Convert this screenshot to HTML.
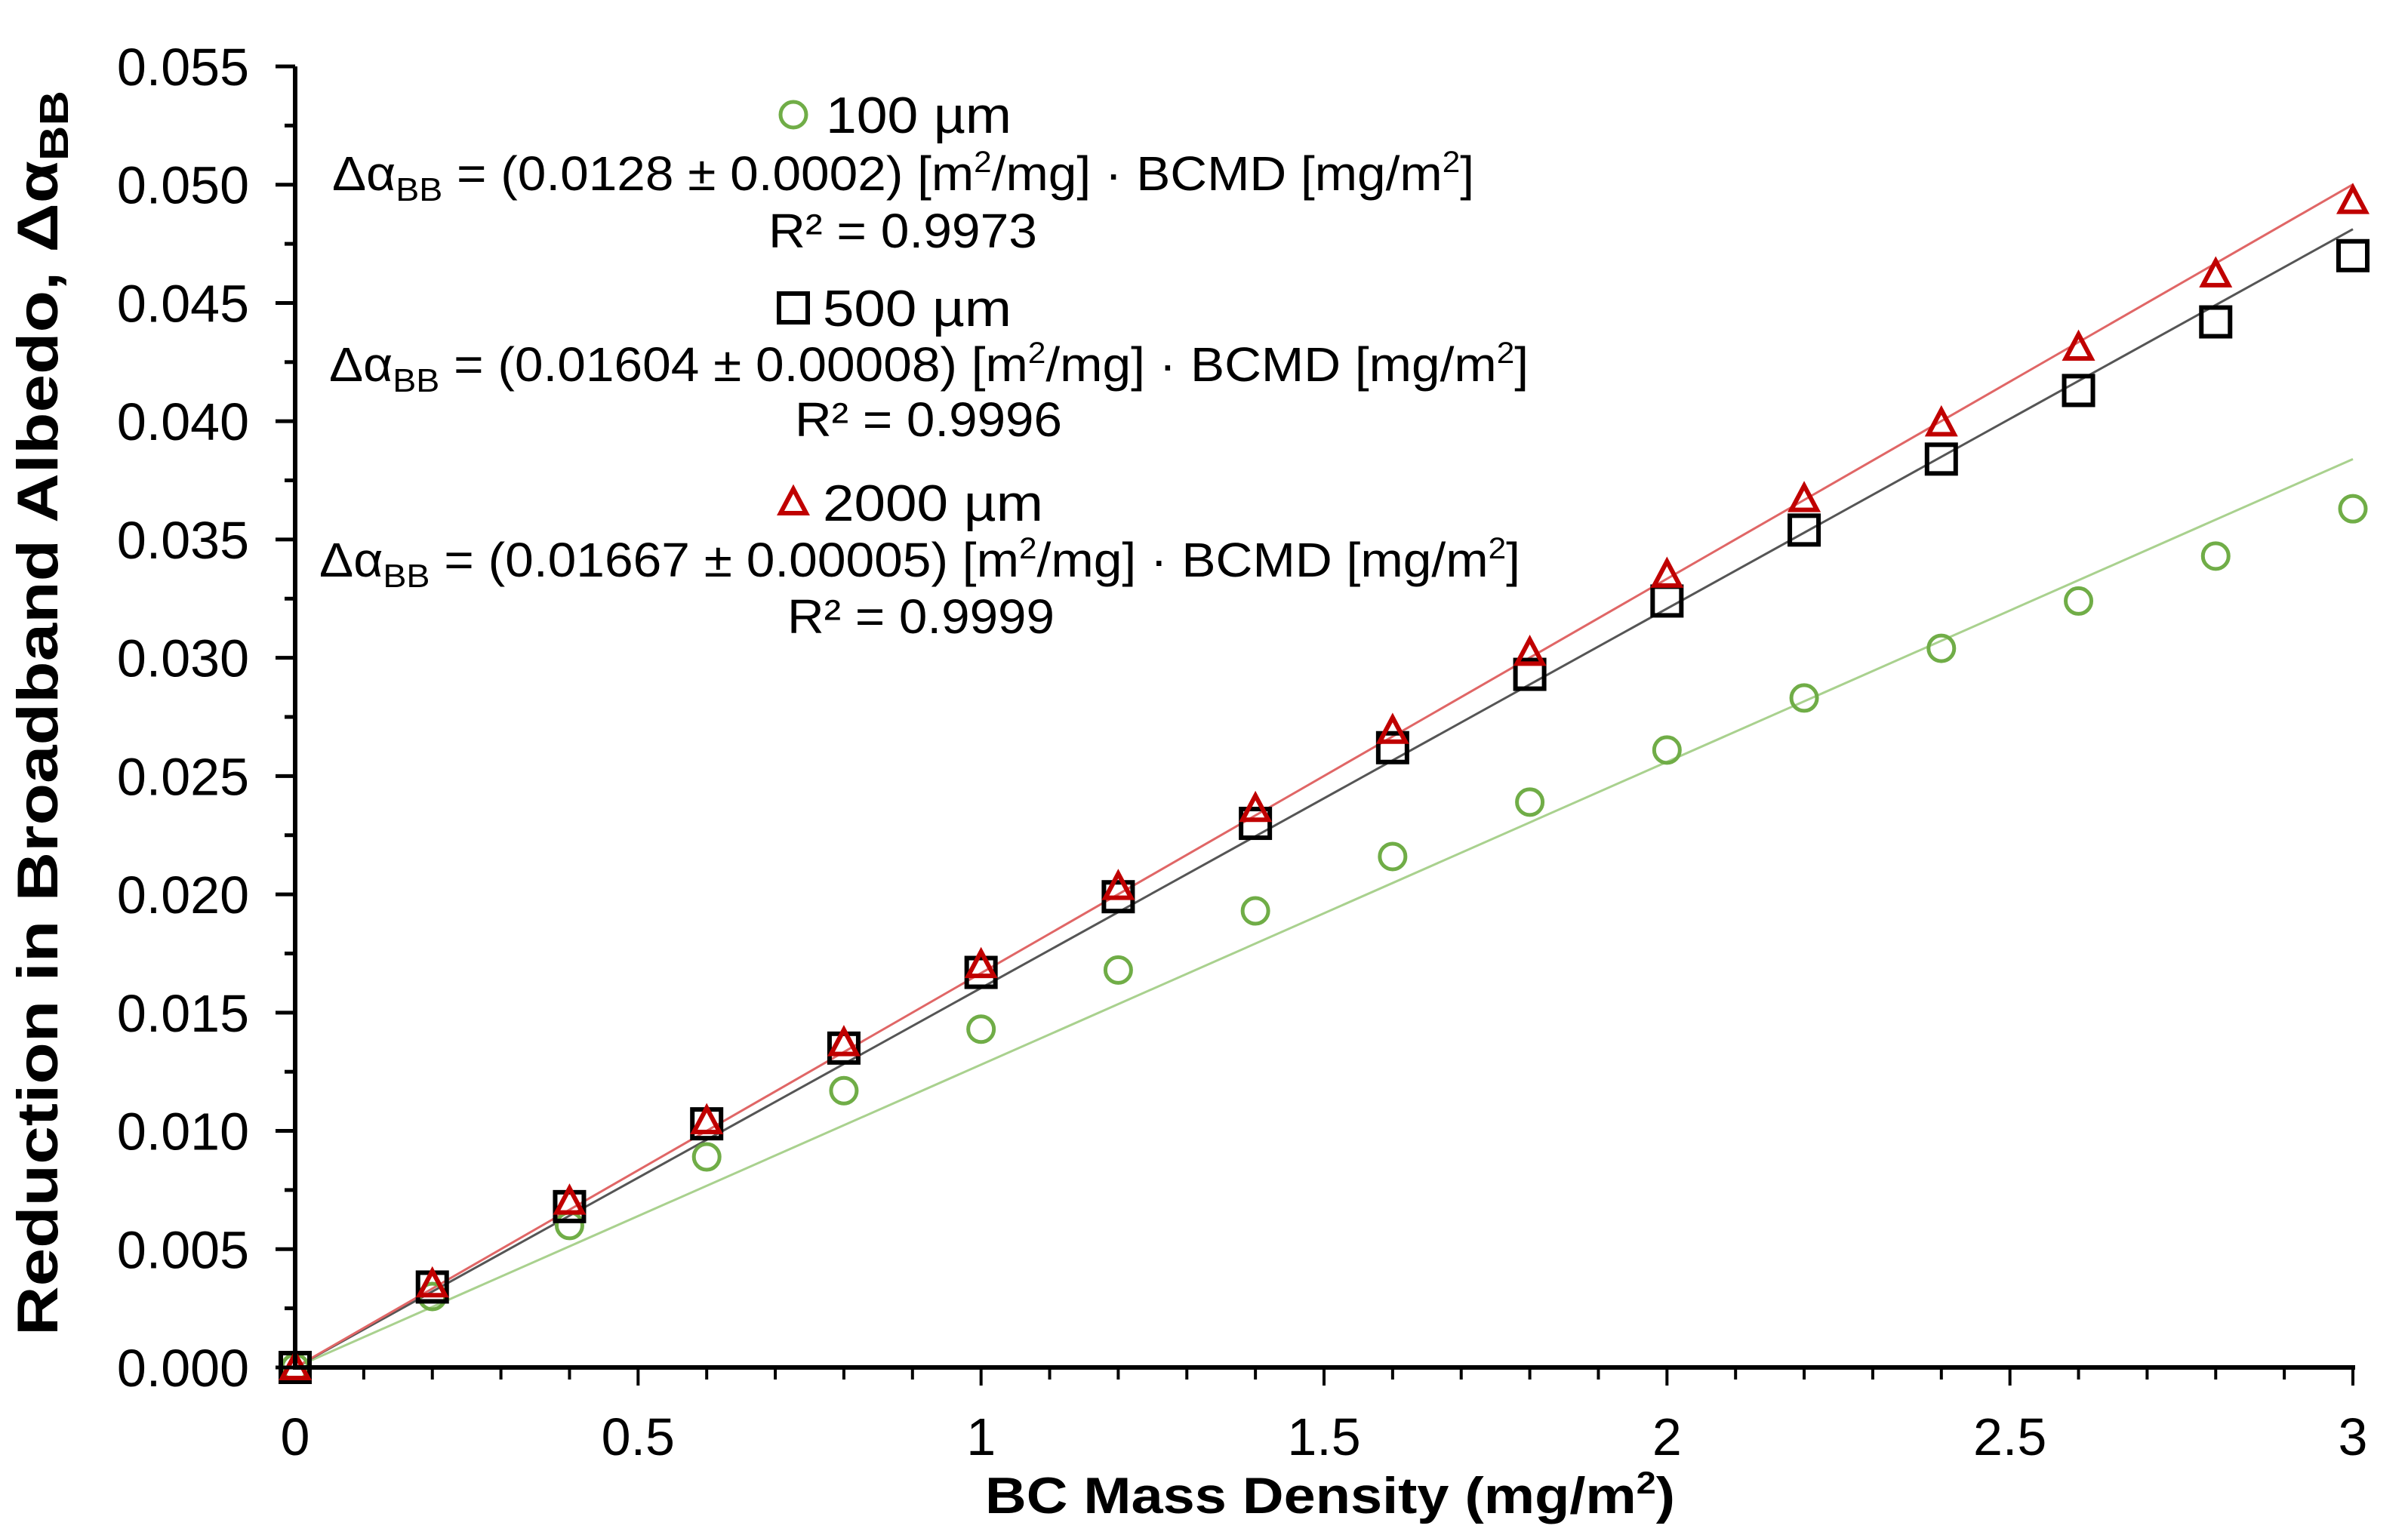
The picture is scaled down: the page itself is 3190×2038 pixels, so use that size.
<!DOCTYPE html>
<html><head><meta charset="utf-8"><style>
html,body{margin:0;padding:0;background:#fff;}
svg{display:block;font-family:"Liberation Sans",Arial,sans-serif;}
</style></head><body>
<svg id="chart" width="3190" height="2038" viewBox="0 0 3190 2038" xmlns="http://www.w3.org/2000/svg">
<g id="grid"></g>
<g id="lines"></g>
<g id="marks"></g>
<g id="axes"></g>
<text transform="translate(76,945) rotate(-90)" text-anchor="middle" font-weight="bold" font-size="76" textLength="1650" lengthAdjust="spacingAndGlyphs">Reduction in Broadband Albedo, Δα<tspan font-size="54" dy="14">BB</tspan></text>
<text x="1305" y="2005" font-weight="bold" font-size="68" textLength="914" lengthAdjust="spacingAndGlyphs">BC Mass Density (mg/m<tspan font-size="42" dy="-26">2</tspan><tspan dy="26">)</tspan></text>
<g font-size="64">
  <circle cx="1051" cy="152" r="17" fill="none" stroke="#70ad47" stroke-width="5"/>
  <text x="1094" y="176" font-size="68" textLength="246" lengthAdjust="spacingAndGlyphs">100 µm</text>
  <text x="440" y="252" textLength="1513" lengthAdjust="spacingAndGlyphs">Δα<tspan font-size="44" dy="14">BB</tspan><tspan dy="-14"> = (0.0128 ± 0.0002) [m</tspan><tspan font-size="40" dy="-24">2</tspan><tspan dy="24">/mg] · BCMD [mg/m</tspan><tspan font-size="40" dy="-24">2</tspan><tspan dy="24">]</tspan></text>
  <text x="1018" y="328" textLength="356" lengthAdjust="spacingAndGlyphs">R² = 0.9973</text>

  <rect x="1032" y="389" width="38" height="38" fill="none" stroke="#000" stroke-width="6"/>
  <text x="1090" y="432" font-size="68" textLength="250" lengthAdjust="spacingAndGlyphs">500 µm</text>
  <text x="436" y="505" textLength="1589" lengthAdjust="spacingAndGlyphs">Δα<tspan font-size="44" dy="14">BB</tspan><tspan dy="-14"> = (0.01604 ± 0.00008) [m</tspan><tspan font-size="40" dy="-24">2</tspan><tspan dy="24">/mg] · BCMD [mg/m</tspan><tspan font-size="40" dy="-24">2</tspan><tspan dy="24">]</tspan></text>
  <text x="1053" y="578" textLength="354" lengthAdjust="spacingAndGlyphs">R² = 0.9996</text>

  <polygon points="1051,648 1068,680 1034,680" fill="none" stroke="#c00000" stroke-width="6" stroke-linejoin="miter"/>
  <text x="1090" y="690" font-size="68" textLength="292" lengthAdjust="spacingAndGlyphs">2000 µm</text>
  <text x="423" y="764" textLength="1591" lengthAdjust="spacingAndGlyphs">Δα<tspan font-size="44" dy="14">BB</tspan><tspan dy="-14"> = (0.01667 ± 0.00005) [m</tspan><tspan font-size="40" dy="-24">2</tspan><tspan dy="24">/mg] · BCMD [mg/m</tspan><tspan font-size="40" dy="-24">2</tspan><tspan dy="24">]</tspan></text>
  <text x="1043" y="839" textLength="354" lengthAdjust="spacingAndGlyphs">R² = 0.9999</text>
</g>
</svg>
<script>
const xValues = [0,0.2,0.4,0.6,0.8,1.0,1.2,1.4,1.6,1.8,2.0,2.2,2.4,2.6,2.8,3.0];
const series100 = [0,0.0030,0.0060,0.0089,0.0117,0.0143,0.0168,0.0193,0.0216,0.0239,0.0261,0.0283,0.0304,0.0324,0.0343,0.0363];
const series500 = [0,0.0034,0.0068,0.0103,0.0135,0.0167,0.0199,0.0230,0.0262,0.0293,0.0324,0.0354,0.0384,0.0413,0.0442,0.0470];
const series2000 = [0,0.0035,0.0070,0.0104,0.0137,0.0170,0.0203,0.0236,0.0269,0.0302,0.0335,0.0367,0.0399,0.0431,0.0462,0.0493];
const slopes = [0.0128,0.01604,0.01667];
const yTickLabels = ["0.000","0.005","0.010","0.015","0.020","0.025","0.030","0.035","0.040","0.045","0.050","0.055"];
const xTickLabels = ["0","0.5","1","1.5","2","2.5","3"];

const X0=391,X1=3117,Y0=1812,Y1=88;
const sx=v=>X0+(v/3)*(X1-X0);
const sy=v=>Y0-(v/0.055)*(Y0-Y1);
const NS="http://www.w3.org/2000/svg";
function mk(tag,attrs,parent){const e=document.createElementNS(NS,tag);for(const k in attrs)e.setAttribute(k,attrs[k]);parent.appendChild(e);return e;}
const axes=document.getElementById('axes'),lines=document.getElementById('lines'),marks=document.getElementById('marks');

let a=mk('line',{x1:X0,y1:Y1,x2:X0,y2:Y0+3,stroke:'#000','stroke-width':6},axes);


a=mk('line',{x1:X0-3,y1:Y0,x2:X1+3,y2:Y0,stroke:'#000','stroke-width':6},axes);



yTickLabels.forEach((lab,i)=>{
  const v=parseFloat(lab),y=sy(v);
  const t=mk('line',{x1:X0-26,y1:y,x2:X0,y2:y,stroke:'#000','stroke-width':5},axes);
  
  
  if(i<yTickLabels.length-1){const m=mk('line',{x1:X0-14,y1:sy(v+0.0025),x2:X0,y2:sy(v+0.0025),stroke:'#000','stroke-width':5},axes);
    
    }
  const tx=mk('text',{x:330,y:y+25,'text-anchor':'end','font-size':70},axes);
  tx.textContent=lab;
  
  
});
for(let k=1;k<=30;k++){
  const x=sx(k*0.1);
  const t=mk('line',{x1:x,y1:Y0,x2:x,y2:Y0+(k%5===0?24:16),stroke:'#000','stroke-width':4},axes);
  
  
}
xTickLabels.forEach(lab=>{
  const tx=mk('text',{x:sx(parseFloat(lab)),y:1928,'text-anchor':'middle','font-size':70},axes);
  tx.textContent=lab;
  
  
});

const colors=['#a9d18e','#555','#e06666'];
const names=['trendline-100um','trendline-500um','trendline-2000um'];
slopes.forEach((s,i)=>{
  const l=mk('line',{x1:sx(0),y1:sy(0),x2:sx(3),y2:sy(s*3),stroke:colors[i],'stroke-width':3},lines);
  
  
});

xValues.forEach((xv,i)=>{
  const x=sx(xv);
  const c=mk('circle',{cx:x,cy:sy(series100[i]),r:17,fill:'none',stroke:'#70ad47','stroke-width':5},marks);
  
  
});
xValues.forEach((xv,i)=>{
  const x=sx(xv),y=sy(series500[i]);
  const r=mk('rect',{x:x-19,y:y-19,width:38,height:38,fill:'none',stroke:'#000','stroke-width':6},marks);
  
  
});
xValues.forEach((xv,i)=>{
  const x=sx(xv),y=sy(series2000[i]);
  const p=mk('polygon',{points:`${x},${y-18} ${x+17},${y+14} ${x-17},${y+14}`,fill:'none',stroke:'#c00000','stroke-width':6},marks);
  
  
});
</script>
</body></html>
